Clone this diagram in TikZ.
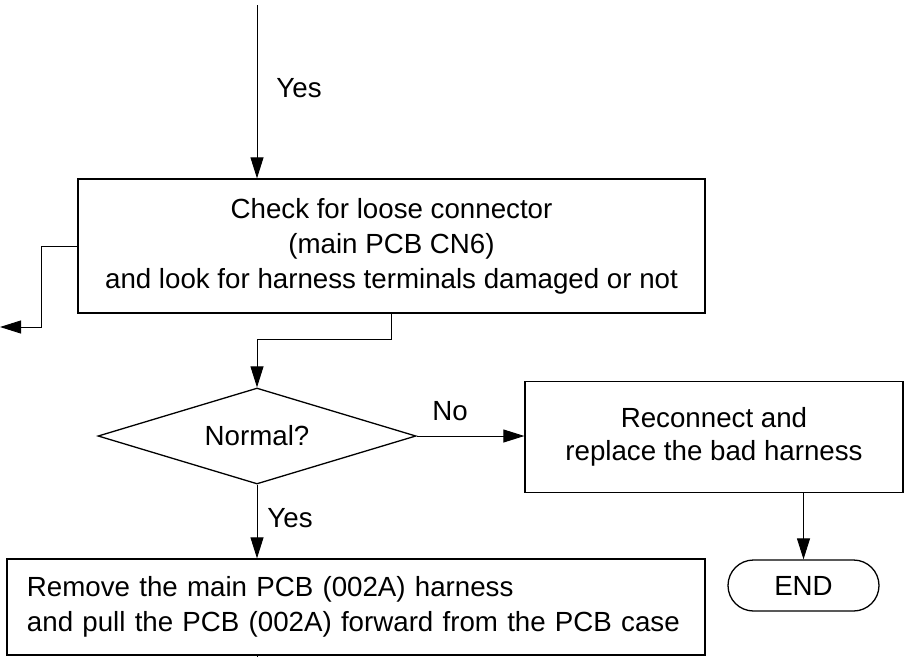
\documentclass[tikz,border=0pt]{standalone}
\usepackage{fontspec}
\setmainfont{Liberation Sans}
\usetikzlibrary{shapes.geometric,shapes.misc,arrows.meta}
\begin{document}
\begin{tikzpicture}[x=1pt,y=-1pt,
  font=\fontsize{27.7}{35}\selectfont,
  box/.style={draw,line width=1.3pt,inner sep=0pt,align=center},
  arr/.style={line width=0.9pt,-{Triangle[length=21pt,width=13pt]}},
  plain/.style={line width=0.9pt},
  lbl/.style={inner sep=0pt}]
\useasboundingbox (0,0) rectangle (906,657);
\node[box,minimum width=627pt,minimum height=134pt] (box1) at (391.5,246)
  {Check for loose connector\\(main PCB CN6)\\and look for harness terminals damaged or not};
\node[box,diamond,shape aspect=3.3,minimum width=318pt,minimum height=96pt] (dia) at (257,436) {Normal?};
\node[box,minimum width=378pt,minimum height=111pt,font=\fontsize{27.7}{33}\selectfont] (box2) at (714,437)
  {Reconnect and\\replace the bad harness};
\node[box,rounded rectangle,minimum width=151pt,minimum height=51pt] (end) at (803.5,585.5) {END};
\node[box,align=left,text width=658pt,inner xsep=20pt,minimum height=96pt] (box3) at (356,607)
  {Remove the main PCB (002A) harness\\and pull the PCB (002A) forward from the PCB case};
\coordinate (top) at (257,5);
\coordinate (exit) at (0,327);
\coordinate (stub) at (257,657);
\draw[arr] (top) -- (top |- box1.north);
\node[lbl] (yes1) at (299,88) {Yes};
\draw[arr] (box1.west) -- ++(-36,0) |- (exit);
\draw[arr] (box1.south) -- ++(0,26) -| (dia.north);
\draw[arr] (dia.east) -- (dia.east -| box2.west);
\node[lbl] (no) at (450,411) {No};
\draw[arr] (box2.south -| end.north) -- (end.north);
\draw[arr] (dia.south) -- (dia.south |- box3.north);
\node[lbl] (yes2) at (290,518) {Yes};
\draw[plain] (dia.south |- box3.south) -- (stub);
\end{tikzpicture}
\end{document}
